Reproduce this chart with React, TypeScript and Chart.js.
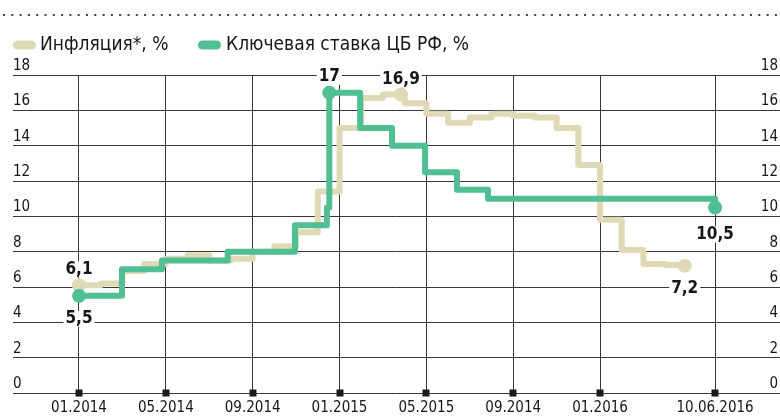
import React, { useEffect, useRef } from 'react';
import { Chart, registerables } from 'chart.js';

Chart.register(...registerables);

// ---- data (x = months since 01.2014) ----
const inflationMonths = [0, 1, 2, 3, 4, 5, 6, 7, 8, 9, 10, 11, 12, 13, 14, 14.83, 15, 16, 17, 18, 19, 20, 21, 22, 23, 24, 25, 26, 27, 27.9];
const inflationValues = [6.1, 6.2, 6.9, 7.3, 7.6, 7.8, 7.5, 7.6, 8.0, 8.3, 9.1, 11.4, 15.0, 16.7, 16.9, 16.9, 16.4, 15.8, 15.3, 15.6, 15.8, 15.7, 15.6, 15.0, 12.9, 9.8, 8.1, 7.3, 7.25, 7.2];
const inflationDots = [0, 15, 29];

const keyRateMonths = [0, 1.98, 3.82, 6.85, 9.95, 11.42, 11.53, 12.95, 14.42, 15.94, 17.41, 18.84, 29.3];
const keyRateValues = [5.5, 7.0, 7.5, 8.0, 9.5, 10.5, 17.0, 15.0, 14.0, 12.5, 11.5, 11.0, 10.5];
const keyRateDots = [0, 6, 12];

const tickMonths = [0, 4, 8, 12, 16, 20, 24, 29.3];
const tickLabels = ['01.2014', '05.2014', '09.2014', '01.2015', '05.2015', '09.2014', '01.2016', '10.06.2016'];

const seriesNames = ['Инфляция*, %', 'Ключевая ставка ЦБ РФ, %'];

const BEIGE = '#dfdab5';
const GREEN = '#50bf93';
const TEXT = '#161616';
const GRID = '#383838';
const FONT = '"DejaVu Sans Condensed", "Roboto", sans-serif';

// callouts: dataset index, point index, vertical offset of the label
const callouts = [
  { ds: 1, idx: 0, dy: -16 },
  { ds: 0, idx: 0, dy: 23 },
  { ds: 0, idx: 6, dy: -16 },
  { ds: 1, idx: 15, dy: -15 },
  { ds: 0, idx: 12, dy: 27 },
  { ds: 1, idx: 29, dy: 23 },
];

const fmt = (v: number) => String(v).replace('.', ',');

const decorPlugin = {
  id: 'decor',
  beforeDatasetsDraw(chart: any) {
    const ctx = chart.ctx;
    ctx.save();
    ctx.font = `bold 17px ${FONT}`;
    for (const c of callouts) {
      const pt = chart.getDatasetMeta(c.ds).data[c.idx];
      const v = chart.data.datasets[c.ds].data[c.idx].y;
      const t = fmt(v);
      const w = ctx.measureText(t).width;
      ctx.fillStyle = '#ffffff';
      ctx.fillRect(pt.x - w / 2 - 2, pt.y + c.dy - 8, w + 4, 16);
    }
    ctx.restore();
  },
  afterDatasetsDraw(chart: any) {
    const ctx = chart.ctx;
    ctx.save();
    ctx.font = `bold 17px ${FONT}`;
    ctx.fillStyle = TEXT;
    ctx.textAlign = 'center';
    ctx.textBaseline = 'middle';
    for (const c of callouts) {
      const pt = chart.getDatasetMeta(c.ds).data[c.idx];
      const v = chart.data.datasets[c.ds].data[c.idx].y;
      ctx.fillText(fmt(v), pt.x, pt.y + c.dy);
    }
    ctx.restore();
  },
  afterDraw(chart: any) {
    const ctx = chart.ctx;
    const xs = chart.scales.x;
    const bottom = chart.chartArea.bottom;
    ctx.save();
    // square tick markers
    ctx.fillStyle = '#1a1a1a';
    for (const m of tickMonths) {
      const px = Math.round(xs.getPixelForValue(m));
      ctx.fillRect(px - 3.5, bottom - 3.5, 7, 7);
    }
    // dotted rule at top
    ctx.strokeStyle = '#444';
    ctx.lineWidth = 2;
    ctx.setLineDash([2, 6.3]);
    ctx.beginPath();
    ctx.moveTo(3, 15);
    ctx.lineTo(780, 15);
    ctx.stroke();
    ctx.setLineDash([]);
    // legend
    const items = [
      { color: BEIGE, x: 13, tx: 40, label: seriesNames[0] },
      { color: GREEN, x: 198, tx: 226, label: seriesNames[1] },
    ];
    ctx.font = `19px ${FONT}`;
    ctx.textBaseline = 'middle';
    ctx.textAlign = 'left';
    for (const it of items) {
      ctx.fillStyle = it.color;
      ctx.beginPath();
      (ctx as any).roundRect(it.x, 40.5, 23, 9, 4.5);
      ctx.fill();
      ctx.fillStyle = TEXT;
      ctx.fillText(it.label, it.tx, 45);
    }
    ctx.restore();
  },
};

export default function App() {
  const ref = useRef<HTMLCanvasElement | null>(null);
  useEffect(() => {
    if (!ref.current) return;
    const chart = new Chart(ref.current, {
      type: 'line',
      data: {
        datasets: [
          {
            label: seriesNames[1],
            data: keyRateMonths.map((m, i) => ({ x: m, y: keyRateValues[i] })),
            borderColor: GREEN,
            backgroundColor: GREEN,
            borderWidth: 6,
            stepped: 'before',
            borderJoinStyle: 'round',
            borderCapStyle: 'round',
            pointRadius: keyRateMonths.map((_, i) => (keyRateDots.includes(i) ? 7 : 0)),
            pointBorderWidth: 0,
            pointBackgroundColor: GREEN,
            order: 0,
          },
          {
            label: seriesNames[0],
            data: inflationMonths.map((m, i) => ({ x: m, y: inflationValues[i] })),
            borderColor: BEIGE,
            backgroundColor: BEIGE,
            borderWidth: 6,
            stepped: 'before',
            borderJoinStyle: 'round',
            borderCapStyle: 'round',
            pointRadius: inflationMonths.map((_, i) => (inflationDots.includes(i) ? 7 : 0)),
            pointBorderWidth: 0,
            pointBackgroundColor: BEIGE,
            order: 1,
          },
        ],
      } as any,
      options: {
        animation: false,
        responsive: false,
        devicePixelRatio: 1,
        events: [],
        layout: { autoPadding: false, padding: { left: 13, right: 0, top: 75, bottom: -7 } },
        plugins: { legend: { display: false }, tooltip: { enabled: false } },
        scales: {
          x: {
            type: 'linear',
            min: -3.04,
            max: 32.29,
            afterBuildTicks: (s: any) => {
              s.ticks = tickMonths.map((v) => ({ value: v }));
            },
            afterFit: (s: any) => {
              s.paddingLeft = 0;
              s.paddingRight = 0;
            },
            ticks: {
              autoSkip: false,
              maxRotation: 0,
              padding: 6,
              color: TEXT,
              font: { family: FONT, size: 15 },
              callback: (_v: any, i: number) => tickLabels[i],
            },
            grid: { color: GRID, lineWidth: 1, drawTicks: false },
            border: { display: false },
          },
          y: {
            position: 'left',
            min: 0,
            max: 18,
            afterFit: (s: any) => {
              s.width = 0;
            },
            ticks: {
              stepSize: 2,
              mirror: true,
              padding: 0,
              labelOffset: -9,
              color: TEXT,
              font: { family: FONT, size: 15 },
            },
            grid: { color: GRID, lineWidth: 1, drawTicks: false },
            border: { display: false },
          },
          y2: {
            position: 'right',
            min: 0,
            max: 18,
            afterFit: (s: any) => {
              s.width = 0;
            },
            ticks: {
              stepSize: 2,
              mirror: true,
              padding: -2,
              labelOffset: -9,
              color: TEXT,
              font: { family: FONT, size: 15 },
            },
            grid: { display: false, drawTicks: false },
            border: { display: false },
          },
        },
      } as any,
      plugins: [decorPlugin],
    });
    return () => chart.destroy();
  }, []);
  return (
    <div style={{ position: 'absolute', left: 0, top: 0, width: 780, height: 416, background: '#fff' }}>
      <canvas ref={ref} width={780} height={416} style={{ display: 'block' }} />
    </div>
  );
}
